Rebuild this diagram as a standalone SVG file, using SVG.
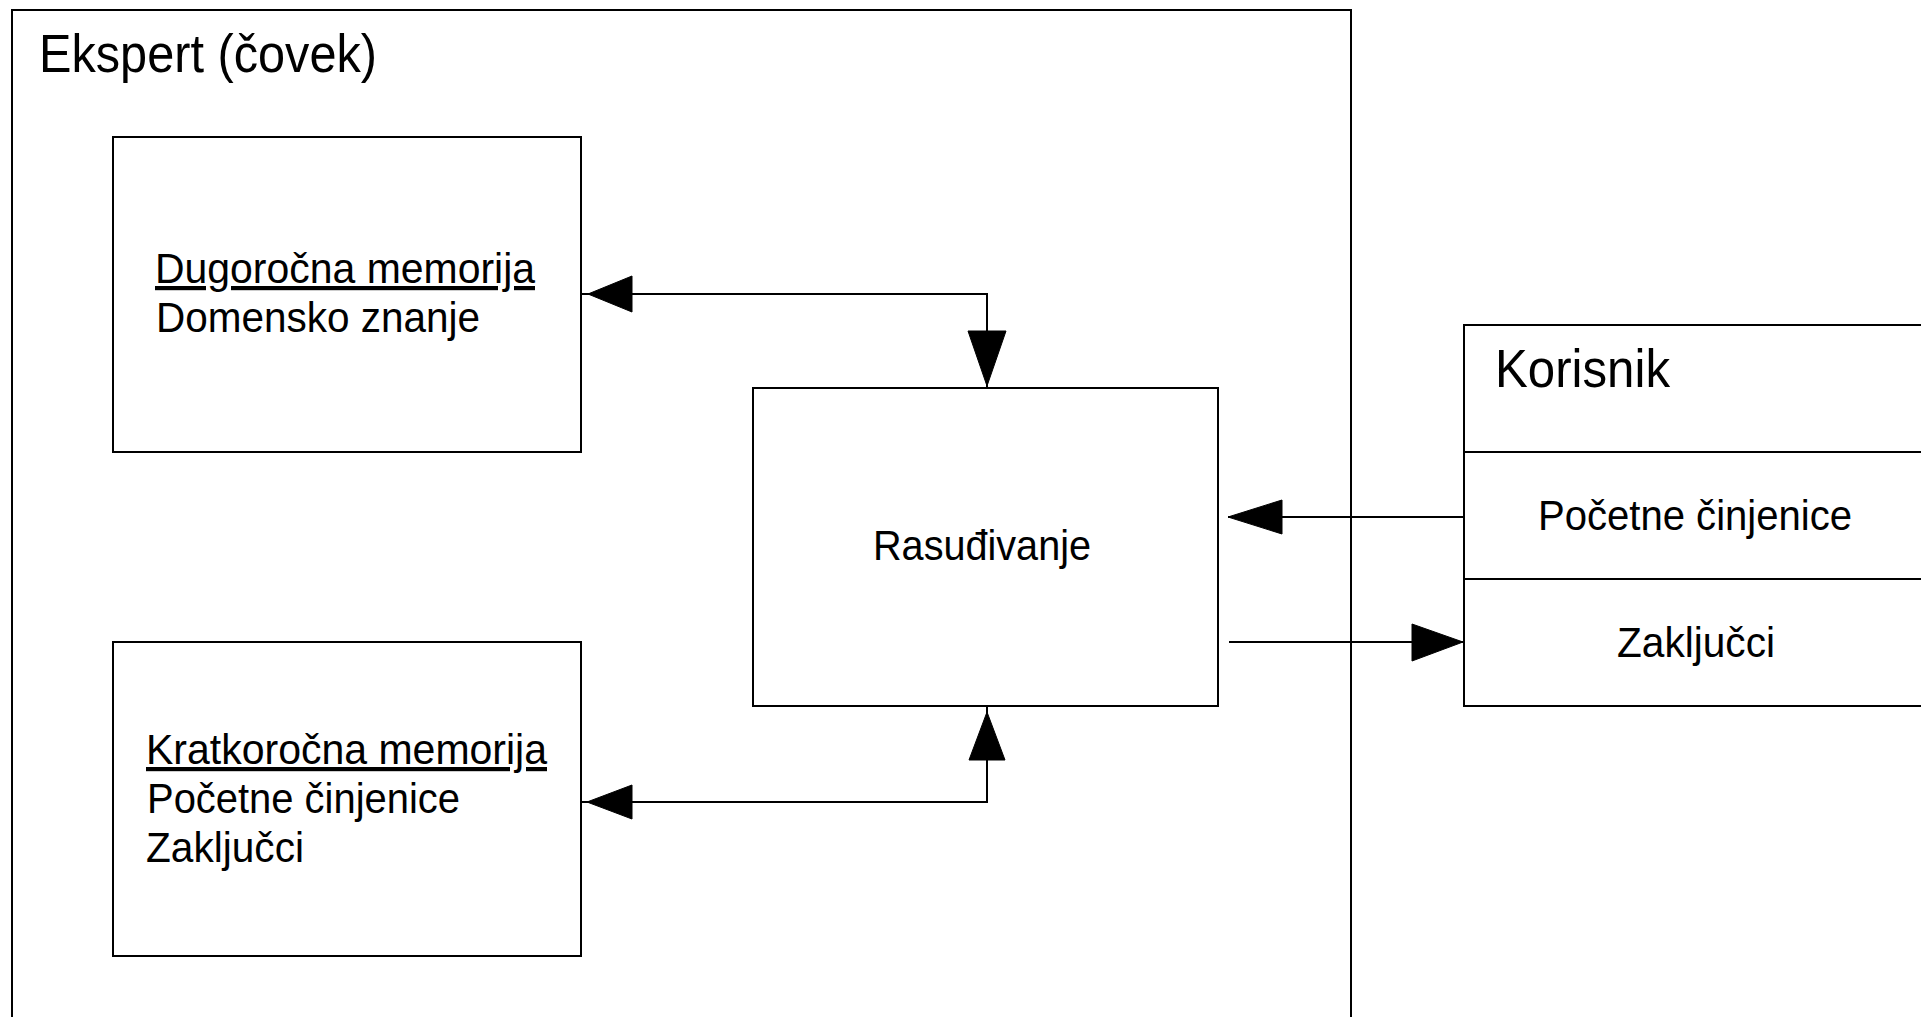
<svg xmlns="http://www.w3.org/2000/svg" width="1921" height="1017" viewBox="0 0 1921 1017">
  <style>
    .box { fill: #ffffff; stroke: #000000; stroke-width: 2; }
    .edge { fill: none; stroke: #000000; stroke-width: 2; }
    .head { fill: #000000; stroke: #000000; stroke-width: 1; stroke-linejoin: miter; }
    .title { font-family: "Liberation Sans", Arial, sans-serif; font-size: 53px; fill: #000000; }
    .label { font-family: "Liberation Sans", Arial, sans-serif; font-size: 42px; fill: #000000; }
    .heading { text-decoration: underline; }
  </style>

  <rect width="1921" height="1017" fill="#ffffff"/>

  <!-- Expert (human) container -->
  <g id="ekspert">
    <rect class="box" x="12" y="10" width="1339" height="1030"/>
    <text class="title" x="39" y="72" textLength="338" lengthAdjust="spacingAndGlyphs">Ekspert (čovek)</text>
  </g>

  <!-- Long-term memory -->
  <g id="dugorocna-memorija">
    <rect class="box" x="113" y="137" width="468" height="315"/>
    <text class="label heading" x="155" y="283" textLength="380" lengthAdjust="spacingAndGlyphs">Dugoročna memorija</text>
    <text class="label" x="156" y="332" textLength="324" lengthAdjust="spacingAndGlyphs">Domensko znanje</text>
  </g>

  <!-- Short-term memory -->
  <g id="kratkorocna-memorija">
    <rect class="box" x="113" y="642" width="468" height="314"/>
    <text class="label heading" x="146" y="764" textLength="401" lengthAdjust="spacingAndGlyphs">Kratkoročna memorija</text>
    <text class="label" x="147" y="813" textLength="313" lengthAdjust="spacingAndGlyphs">Početne činjenice</text>
    <text class="label" x="146" y="862" textLength="158" lengthAdjust="spacingAndGlyphs">Zaključci</text>
  </g>

  <!-- Reasoning -->
  <g id="rasudjivanje">
    <rect class="box" x="753" y="388" width="465" height="318"/>
    <text class="label" x="873" y="560" textLength="218" lengthAdjust="spacingAndGlyphs">Rasuđivanje</text>
  </g>

  <!-- User, with its two compartments -->
  <g id="korisnik">
    <rect class="box" x="1464" y="325" width="520" height="381"/>
    <line class="edge" x1="1464" y1="452" x2="1930" y2="452"/>
    <line class="edge" x1="1464" y1="579" x2="1930" y2="579"/>
    <text class="title" x="1495" y="387" textLength="175" lengthAdjust="spacingAndGlyphs">Korisnik</text>
    <text class="label" x="1538" y="530" textLength="314" lengthAdjust="spacingAndGlyphs">Početne činjenice</text>
    <text class="label" x="1617" y="657" textLength="158" lengthAdjust="spacingAndGlyphs">Zaključci</text>
  </g>

  <!-- Connectors -->
  <g id="connectors">
    <!-- long-term memory <-> reasoning -->
    <path class="edge" d="M582 294 H987 V388"/>
    <polygon class="head" points="588,294 632,276 632,312"/>
    <polygon class="head" points="968,331 1006,331 987,386"/>

    <!-- short-term memory <-> reasoning -->
    <path class="edge" d="M582 802 H987 V706"/>
    <polygon class="head" points="587,802 632,785 632,819"/>
    <polygon class="head" points="987,712 969,760 1005,760"/>

    <!-- initial facts: user -> reasoning -->
    <path class="edge" d="M1228 517 H1464"/>
    <polygon class="head" points="1228,517 1282,500 1282,534"/>

    <!-- conclusions: reasoning -> user -->
    <path class="edge" d="M1229 642 H1464"/>
    <polygon class="head" points="1463,642 1412,624 1412,661"/>
  </g>
</svg>
